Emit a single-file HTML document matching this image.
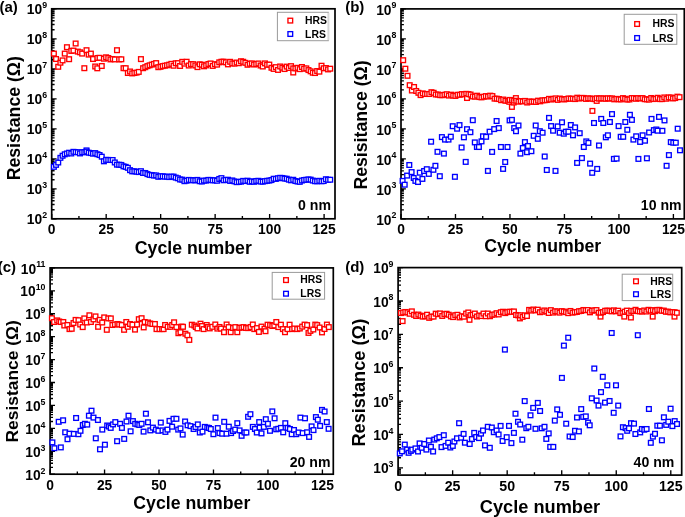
<!DOCTYPE html><html><head><meta charset="utf-8"><style>html,body{margin:0;padding:0;background:#fff;width:685px;height:517px;overflow:hidden}svg{display:block;will-change:transform}text{font-family:"Liberation Sans", sans-serif;font-weight:bold;fill:#000}</style></head><body>
<svg width="685" height="517" viewBox="0 0 685 517">
<path d="M51.70 218.80h4.9M51.70 209.77h2.9M51.70 204.49h2.9M51.70 200.74h2.9M51.70 197.83h2.9M51.70 195.46h2.9M51.70 193.45h2.9M51.70 191.71h2.9M51.70 190.17h2.9M51.70 188.80h4.9M51.70 179.77h2.9M51.70 174.49h2.9M51.70 170.74h2.9M51.70 167.83h2.9M51.70 165.46h2.9M51.70 163.45h2.9M51.70 161.71h2.9M51.70 160.17h2.9M51.70 158.80h4.9M51.70 149.77h2.9M51.70 144.49h2.9M51.70 140.74h2.9M51.70 137.83h2.9M51.70 135.46h2.9M51.70 133.45h2.9M51.70 131.71h2.9M51.70 130.17h2.9M51.70 128.80h4.9M51.70 119.77h2.9M51.70 114.49h2.9M51.70 110.74h2.9M51.70 107.83h2.9M51.70 105.46h2.9M51.70 103.45h2.9M51.70 101.71h2.9M51.70 100.17h2.9M51.70 98.80h4.9M51.70 89.77h2.9M51.70 84.49h2.9M51.70 80.74h2.9M51.70 77.83h2.9M51.70 75.46h2.9M51.70 73.45h2.9M51.70 71.71h2.9M51.70 70.17h2.9M51.70 68.80h4.9M51.70 59.77h2.9M51.70 54.49h2.9M51.70 50.74h2.9M51.70 47.83h2.9M51.70 45.46h2.9M51.70 43.45h2.9M51.70 41.71h2.9M51.70 40.17h2.9M51.70 38.80h4.9M51.70 29.77h2.9M51.70 24.49h2.9M51.70 20.74h2.9M51.70 17.83h2.9M51.70 15.46h2.9M51.70 13.45h2.9M51.70 11.71h2.9M51.70 10.17h2.9M51.70 8.80h4.9M51.70 218.80v-4.8M78.94 218.80v-2.8M106.18 218.80v-4.8M133.42 218.80v-2.8M160.66 218.80v-4.8M187.90 218.80v-2.8M215.14 218.80v-4.8M242.38 218.80v-2.8M269.62 218.80v-4.8M296.86 218.80v-2.8M324.10 218.80v-4.8" stroke="#000" stroke-width="1.35" fill="none"/>
<rect x="51.70" y="8.80" width="283.30" height="210.00" fill="none" stroke="#000" stroke-width="1.7"/>
<text x="47.10" y="224.40" font-size="13.8" text-anchor="end">10<tspan font-size="8.8" dy="-6.2">2</tspan></text>
<text x="47.10" y="194.40" font-size="13.8" text-anchor="end">10<tspan font-size="8.8" dy="-6.2">3</tspan></text>
<text x="47.10" y="164.40" font-size="13.8" text-anchor="end">10<tspan font-size="8.8" dy="-6.2">4</tspan></text>
<text x="47.10" y="134.40" font-size="13.8" text-anchor="end">10<tspan font-size="8.8" dy="-6.2">5</tspan></text>
<text x="47.10" y="104.40" font-size="13.8" text-anchor="end">10<tspan font-size="8.8" dy="-6.2">6</tspan></text>
<text x="47.10" y="74.40" font-size="13.8" text-anchor="end">10<tspan font-size="8.8" dy="-6.2">7</tspan></text>
<text x="47.10" y="44.40" font-size="13.8" text-anchor="end">10<tspan font-size="8.8" dy="-6.2">8</tspan></text>
<text x="47.10" y="14.40" font-size="13.8" text-anchor="end">10<tspan font-size="8.8" dy="-6.2">9</tspan></text>
<text x="51.70" y="234.10" font-size="13.8" text-anchor="middle">0</text>
<text x="106.18" y="234.10" font-size="13.8" text-anchor="middle">25</text>
<text x="160.66" y="234.10" font-size="13.8" text-anchor="middle">50</text>
<text x="215.14" y="234.10" font-size="13.8" text-anchor="middle">75</text>
<text x="269.62" y="234.10" font-size="13.8" text-anchor="middle">100</text>
<text x="324.10" y="234.10" font-size="13.8" text-anchor="middle">125</text>
<text x="193.30" y="254.10" font-size="17.70" text-anchor="middle">Cycle number</text>
<text transform="translate(20.00 118.20) rotate(-90)" font-size="17.70" text-anchor="middle">Resistance (&#937;)</text>
<text x="-0.50" y="11.60" font-size="15">(a)</text>
<text x="331.00" y="210.40" font-size="14.1" text-anchor="end">0 nm</text>
<rect x="277.40" y="12.30" width="50.90" height="28.40" fill="#fff" stroke="#9a9a9a" stroke-width="1"/>
<path d="M328.60 12.80V40.20" stroke="#d8d8d8" stroke-width="1.6" fill="none"/>
<rect x="287.95" y="18.25" width="4.70" height="4.70" fill="#fff" stroke="#f00" stroke-width="1.35"/>
<rect x="287.95" y="31.65" width="4.70" height="4.70" fill="#fff" stroke="#00f" stroke-width="1.35"/>
<text x="305.10" y="23.70" font-size="10.4">HRS</text>
<text x="305.10" y="37.90" font-size="10.4">LRS</text>
<g fill="#fff" stroke="#f00" stroke-width="1.35"><rect x="51.53" y="51.25" width="4.70" height="4.70"/><rect x="53.70" y="56.65" width="4.70" height="4.70"/><rect x="55.88" y="64.45" width="4.70" height="4.70"/><rect x="58.05" y="60.35" width="4.70" height="4.70"/><rect x="60.23" y="58.05" width="4.70" height="4.70"/><rect x="62.41" y="51.25" width="4.70" height="4.70"/><rect x="64.58" y="44.85" width="4.70" height="4.70"/><rect x="66.76" y="56.85" width="4.70" height="4.70"/><rect x="68.93" y="48.55" width="4.70" height="4.70"/><rect x="71.11" y="48.25" width="4.70" height="4.70"/><rect x="73.29" y="41.15" width="4.70" height="4.70"/><rect x="75.46" y="49.25" width="4.70" height="4.70"/><rect x="77.64" y="49.95" width="4.70" height="4.70"/><rect x="79.81" y="51.25" width="4.70" height="4.70"/><rect x="81.99" y="65.85" width="4.70" height="4.70"/><rect x="84.17" y="47.85" width="4.70" height="4.70"/><rect x="86.34" y="52.25" width="4.70" height="4.70"/><rect x="88.52" y="51.25" width="4.70" height="4.70"/><rect x="90.69" y="56.65" width="4.70" height="4.70"/><rect x="92.87" y="64.15" width="4.70" height="4.70"/><rect x="94.95" y="65.95" width="4.70" height="4.70"/><rect x="95.05" y="55.65" width="4.70" height="4.70"/><rect x="97.22" y="55.45" width="4.70" height="4.70"/><rect x="99.40" y="63.65" width="4.70" height="4.70"/><rect x="101.57" y="56.35" width="4.70" height="4.70"/><rect x="103.75" y="54.95" width="4.70" height="4.70"/><rect x="105.93" y="55.65" width="4.70" height="4.70"/><rect x="108.10" y="57.05" width="4.70" height="4.70"/><rect x="110.28" y="56.65" width="4.70" height="4.70"/><rect x="112.45" y="57.05" width="4.70" height="4.70"/><rect x="114.63" y="47.85" width="4.70" height="4.70"/><rect x="116.81" y="57.05" width="4.70" height="4.70"/><rect x="118.98" y="56.95" width="4.70" height="4.70"/><rect x="121.16" y="65.85" width="4.70" height="4.70"/><rect x="123.33" y="65.85" width="4.70" height="4.70"/><rect x="125.51" y="70.65" width="4.70" height="4.70"/><rect x="127.69" y="69.15" width="4.70" height="4.70"/><rect x="129.86" y="71.05" width="4.70" height="4.70"/><rect x="132.04" y="70.65" width="4.70" height="4.70"/><rect x="134.21" y="70.25" width="4.70" height="4.70"/><rect x="136.39" y="69.55" width="4.70" height="4.70"/><rect x="138.57" y="56.75" width="4.70" height="4.70"/><rect x="140.74" y="65.85" width="4.70" height="4.70"/><rect x="142.92" y="64.85" width="4.70" height="4.70"/><rect x="145.09" y="63.75" width="4.70" height="4.70"/><rect x="147.27" y="62.95" width="4.70" height="4.70"/><rect x="149.45" y="62.25" width="4.70" height="4.70"/><rect x="151.62" y="61.55" width="4.70" height="4.70"/><rect x="153.80" y="60.75" width="4.70" height="4.70"/><rect x="155.97" y="64.85" width="4.70" height="4.70"/><rect x="158.15" y="64.45" width="4.70" height="4.70"/><rect x="160.33" y="63.75" width="4.70" height="4.70"/><rect x="162.50" y="63.35" width="4.70" height="4.70"/><rect x="164.68" y="62.95" width="4.70" height="4.70"/><rect x="166.85" y="62.32" width="4.70" height="4.70"/><rect x="169.03" y="61.50" width="4.70" height="4.70"/><rect x="171.21" y="63.38" width="4.70" height="4.70"/><rect x="173.38" y="60.94" width="4.70" height="4.70"/><rect x="175.56" y="60.79" width="4.70" height="4.70"/><rect x="177.73" y="63.61" width="4.70" height="4.70"/><rect x="179.91" y="59.48" width="4.70" height="4.70"/><rect x="182.09" y="61.28" width="4.70" height="4.70"/><rect x="184.26" y="59.40" width="4.70" height="4.70"/><rect x="186.44" y="63.18" width="4.70" height="4.70"/><rect x="188.61" y="61.73" width="4.70" height="4.70"/><rect x="190.79" y="61.81" width="4.70" height="4.70"/><rect x="192.97" y="63.15" width="4.70" height="4.70"/><rect x="195.14" y="64.76" width="4.70" height="4.70"/><rect x="197.32" y="61.95" width="4.70" height="4.70"/><rect x="199.49" y="62.34" width="4.70" height="4.70"/><rect x="201.67" y="63.96" width="4.70" height="4.70"/><rect x="203.85" y="63.04" width="4.70" height="4.70"/><rect x="206.02" y="61.69" width="4.70" height="4.70"/><rect x="208.20" y="61.10" width="4.70" height="4.70"/><rect x="210.37" y="63.56" width="4.70" height="4.70"/><rect x="212.55" y="61.84" width="4.70" height="4.70"/><rect x="214.73" y="62.28" width="4.70" height="4.70"/><rect x="216.90" y="59.99" width="4.70" height="4.70"/><rect x="219.08" y="59.39" width="4.70" height="4.70"/><rect x="221.25" y="59.27" width="4.70" height="4.70"/><rect x="223.43" y="60.01" width="4.70" height="4.70"/><rect x="225.61" y="62.02" width="4.70" height="4.70"/><rect x="227.78" y="59.46" width="4.70" height="4.70"/><rect x="229.96" y="61.05" width="4.70" height="4.70"/><rect x="232.13" y="61.26" width="4.70" height="4.70"/><rect x="234.31" y="60.18" width="4.70" height="4.70"/><rect x="236.49" y="60.86" width="4.70" height="4.70"/><rect x="238.66" y="58.90" width="4.70" height="4.70"/><rect x="240.84" y="59.39" width="4.70" height="4.70"/><rect x="243.01" y="60.47" width="4.70" height="4.70"/><rect x="245.19" y="62.42" width="4.70" height="4.70"/><rect x="247.37" y="61.45" width="4.70" height="4.70"/><rect x="249.54" y="61.04" width="4.70" height="4.70"/><rect x="251.72" y="62.17" width="4.70" height="4.70"/><rect x="253.89" y="61.69" width="4.70" height="4.70"/><rect x="256.07" y="61.12" width="4.70" height="4.70"/><rect x="258.25" y="63.15" width="4.70" height="4.70"/><rect x="260.42" y="62.81" width="4.70" height="4.70"/><rect x="260.42" y="64.15" width="4.70" height="4.70"/><rect x="262.60" y="61.04" width="4.70" height="4.70"/><rect x="264.77" y="62.40" width="4.70" height="4.70"/><rect x="266.95" y="62.25" width="4.70" height="4.70"/><rect x="269.13" y="65.40" width="4.70" height="4.70"/><rect x="271.30" y="66.57" width="4.70" height="4.70"/><rect x="273.48" y="64.80" width="4.70" height="4.70"/><rect x="275.65" y="67.57" width="4.70" height="4.70"/><rect x="277.83" y="64.12" width="4.70" height="4.70"/><rect x="280.01" y="65.32" width="4.70" height="4.70"/><rect x="282.18" y="66.68" width="4.70" height="4.70"/><rect x="284.36" y="64.26" width="4.70" height="4.70"/><rect x="286.53" y="65.61" width="4.70" height="4.70"/><rect x="288.71" y="63.81" width="4.70" height="4.70"/><rect x="290.89" y="66.02" width="4.70" height="4.70"/><rect x="290.89" y="70.15" width="4.70" height="4.70"/><rect x="293.06" y="66.11" width="4.70" height="4.70"/><rect x="295.24" y="65.46" width="4.70" height="4.70"/><rect x="297.41" y="66.79" width="4.70" height="4.70"/><rect x="299.59" y="64.66" width="4.70" height="4.70"/><rect x="301.77" y="66.31" width="4.70" height="4.70"/><rect x="303.94" y="66.03" width="4.70" height="4.70"/><rect x="306.12" y="67.72" width="4.70" height="4.70"/><rect x="308.29" y="68.97" width="4.70" height="4.70"/><rect x="310.47" y="70.38" width="4.70" height="4.70"/><rect x="312.65" y="70.68" width="4.70" height="4.70"/><rect x="314.82" y="68.67" width="4.70" height="4.70"/><rect x="317.00" y="69.31" width="4.70" height="4.70"/><rect x="319.17" y="63.39" width="4.70" height="4.70"/><rect x="321.35" y="65.93" width="4.70" height="4.70"/><rect x="323.53" y="65.69" width="4.70" height="4.70"/><rect x="325.70" y="67.05" width="4.70" height="4.70"/><rect x="327.88" y="66.34" width="4.70" height="4.70"/></g>
<g fill="#fff" stroke="#00f" stroke-width="1.35"><rect x="51.53" y="164.49" width="4.70" height="4.70"/><rect x="53.70" y="162.51" width="4.70" height="4.70"/><rect x="55.88" y="160.15" width="4.70" height="4.70"/><rect x="58.05" y="155.48" width="4.70" height="4.70"/><rect x="60.23" y="153.40" width="4.70" height="4.70"/><rect x="62.41" y="151.95" width="4.70" height="4.70"/><rect x="64.58" y="151.16" width="4.70" height="4.70"/><rect x="66.76" y="150.36" width="4.70" height="4.70"/><rect x="68.93" y="151.13" width="4.70" height="4.70"/><rect x="71.11" y="149.48" width="4.70" height="4.70"/><rect x="73.29" y="149.70" width="4.70" height="4.70"/><rect x="75.46" y="149.95" width="4.70" height="4.70"/><rect x="77.64" y="151.07" width="4.70" height="4.70"/><rect x="79.81" y="149.90" width="4.70" height="4.70"/><rect x="81.99" y="149.81" width="4.70" height="4.70"/><rect x="84.17" y="148.05" width="4.70" height="4.70"/><rect x="84.17" y="149.24" width="4.70" height="4.70"/><rect x="86.34" y="150.34" width="4.70" height="4.70"/><rect x="88.52" y="150.72" width="4.70" height="4.70"/><rect x="90.69" y="151.31" width="4.70" height="4.70"/><rect x="92.87" y="150.75" width="4.70" height="4.70"/><rect x="95.05" y="151.90" width="4.70" height="4.70"/><rect x="97.22" y="152.70" width="4.70" height="4.70"/><rect x="99.40" y="154.34" width="4.70" height="4.70"/><rect x="101.57" y="158.97" width="4.70" height="4.70"/><rect x="103.75" y="157.52" width="4.70" height="4.70"/><rect x="105.93" y="157.57" width="4.70" height="4.70"/><rect x="108.10" y="157.67" width="4.70" height="4.70"/><rect x="110.28" y="157.67" width="4.70" height="4.70"/><rect x="112.45" y="160.12" width="4.70" height="4.70"/><rect x="114.63" y="162.31" width="4.70" height="4.70"/><rect x="116.81" y="162.39" width="4.70" height="4.70"/><rect x="118.98" y="162.59" width="4.70" height="4.70"/><rect x="121.16" y="164.00" width="4.70" height="4.70"/><rect x="123.33" y="164.51" width="4.70" height="4.70"/><rect x="125.51" y="165.47" width="4.70" height="4.70"/><rect x="127.69" y="167.82" width="4.70" height="4.70"/><rect x="129.86" y="168.99" width="4.70" height="4.70"/><rect x="132.04" y="168.93" width="4.70" height="4.70"/><rect x="134.21" y="169.36" width="4.70" height="4.70"/><rect x="136.39" y="169.72" width="4.70" height="4.70"/><rect x="138.57" y="168.85" width="4.70" height="4.70"/><rect x="140.74" y="170.62" width="4.70" height="4.70"/><rect x="142.92" y="170.65" width="4.70" height="4.70"/><rect x="145.09" y="171.76" width="4.70" height="4.70"/><rect x="147.27" y="172.55" width="4.70" height="4.70"/><rect x="149.45" y="172.76" width="4.70" height="4.70"/><rect x="151.62" y="173.19" width="4.70" height="4.70"/><rect x="153.80" y="173.09" width="4.70" height="4.70"/><rect x="155.97" y="174.47" width="4.70" height="4.70"/><rect x="158.15" y="173.86" width="4.70" height="4.70"/><rect x="160.33" y="173.95" width="4.70" height="4.70"/><rect x="162.50" y="174.29" width="4.70" height="4.70"/><rect x="164.68" y="174.29" width="4.70" height="4.70"/><rect x="166.85" y="174.70" width="4.70" height="4.70"/><rect x="169.03" y="174.26" width="4.70" height="4.70"/><rect x="171.21" y="174.25" width="4.70" height="4.70"/><rect x="173.38" y="175.27" width="4.70" height="4.70"/><rect x="175.56" y="175.93" width="4.70" height="4.70"/><rect x="177.73" y="177.15" width="4.70" height="4.70"/><rect x="179.91" y="177.30" width="4.70" height="4.70"/><rect x="182.09" y="178.84" width="4.70" height="4.70"/><rect x="184.26" y="178.38" width="4.70" height="4.70"/><rect x="186.44" y="177.56" width="4.70" height="4.70"/><rect x="188.61" y="177.76" width="4.70" height="4.70"/><rect x="190.79" y="177.94" width="4.70" height="4.70"/><rect x="192.97" y="177.99" width="4.70" height="4.70"/><rect x="195.14" y="177.56" width="4.70" height="4.70"/><rect x="197.32" y="178.88" width="4.70" height="4.70"/><rect x="199.49" y="179.16" width="4.70" height="4.70"/><rect x="201.67" y="178.22" width="4.70" height="4.70"/><rect x="203.85" y="178.27" width="4.70" height="4.70"/><rect x="206.02" y="177.56" width="4.70" height="4.70"/><rect x="208.20" y="177.61" width="4.70" height="4.70"/><rect x="210.37" y="178.05" width="4.70" height="4.70"/><rect x="212.55" y="177.93" width="4.70" height="4.70"/><rect x="214.73" y="178.38" width="4.70" height="4.70"/><rect x="216.90" y="176.61" width="4.70" height="4.70"/><rect x="219.08" y="175.79" width="4.70" height="4.70"/><rect x="221.25" y="177.92" width="4.70" height="4.70"/><rect x="223.43" y="177.62" width="4.70" height="4.70"/><rect x="225.61" y="177.39" width="4.70" height="4.70"/><rect x="227.78" y="178.57" width="4.70" height="4.70"/><rect x="229.96" y="178.10" width="4.70" height="4.70"/><rect x="232.13" y="179.00" width="4.70" height="4.70"/><rect x="234.31" y="179.81" width="4.70" height="4.70"/><rect x="236.49" y="179.60" width="4.70" height="4.70"/><rect x="238.66" y="179.30" width="4.70" height="4.70"/><rect x="240.84" y="178.52" width="4.70" height="4.70"/><rect x="243.01" y="178.71" width="4.70" height="4.70"/><rect x="245.19" y="178.35" width="4.70" height="4.70"/><rect x="247.37" y="179.44" width="4.70" height="4.70"/><rect x="249.54" y="179.01" width="4.70" height="4.70"/><rect x="251.72" y="179.45" width="4.70" height="4.70"/><rect x="253.89" y="178.64" width="4.70" height="4.70"/><rect x="256.07" y="178.45" width="4.70" height="4.70"/><rect x="258.25" y="179.25" width="4.70" height="4.70"/><rect x="260.42" y="179.30" width="4.70" height="4.70"/><rect x="262.60" y="178.80" width="4.70" height="4.70"/><rect x="264.77" y="178.46" width="4.70" height="4.70"/><rect x="266.95" y="178.22" width="4.70" height="4.70"/><rect x="269.13" y="177.71" width="4.70" height="4.70"/><rect x="271.30" y="176.41" width="4.70" height="4.70"/><rect x="273.48" y="176.56" width="4.70" height="4.70"/><rect x="275.65" y="175.89" width="4.70" height="4.70"/><rect x="277.83" y="175.47" width="4.70" height="4.70"/><rect x="280.01" y="175.63" width="4.70" height="4.70"/><rect x="282.18" y="176.25" width="4.70" height="4.70"/><rect x="284.36" y="176.38" width="4.70" height="4.70"/><rect x="286.53" y="177.33" width="4.70" height="4.70"/><rect x="288.71" y="177.97" width="4.70" height="4.70"/><rect x="290.89" y="177.43" width="4.70" height="4.70"/><rect x="293.06" y="178.69" width="4.70" height="4.70"/><rect x="295.24" y="179.15" width="4.70" height="4.70"/><rect x="297.41" y="179.47" width="4.70" height="4.70"/><rect x="299.59" y="178.16" width="4.70" height="4.70"/><rect x="301.77" y="177.65" width="4.70" height="4.70"/><rect x="303.94" y="177.41" width="4.70" height="4.70"/><rect x="306.12" y="177.10" width="4.70" height="4.70"/><rect x="308.29" y="177.28" width="4.70" height="4.70"/><rect x="310.47" y="178.21" width="4.70" height="4.70"/><rect x="312.65" y="178.87" width="4.70" height="4.70"/><rect x="314.82" y="178.93" width="4.70" height="4.70"/><rect x="317.00" y="178.45" width="4.70" height="4.70"/><rect x="319.17" y="178.93" width="4.70" height="4.70"/><rect x="321.35" y="178.69" width="4.70" height="4.70"/><rect x="323.53" y="176.90" width="4.70" height="4.70"/><rect x="325.70" y="177.44" width="4.70" height="4.70"/><rect x="327.88" y="177.39" width="4.70" height="4.70"/></g>
<path d="M401.00 218.90h4.9M401.00 209.87h2.9M401.00 204.59h2.9M401.00 200.84h2.9M401.00 197.93h2.9M401.00 195.56h2.9M401.00 193.55h2.9M401.00 191.81h2.9M401.00 190.27h2.9M401.00 188.90h4.9M401.00 179.87h2.9M401.00 174.59h2.9M401.00 170.84h2.9M401.00 167.93h2.9M401.00 165.56h2.9M401.00 163.55h2.9M401.00 161.81h2.9M401.00 160.27h2.9M401.00 158.90h4.9M401.00 149.87h2.9M401.00 144.59h2.9M401.00 140.84h2.9M401.00 137.93h2.9M401.00 135.56h2.9M401.00 133.55h2.9M401.00 131.81h2.9M401.00 130.27h2.9M401.00 128.90h4.9M401.00 119.87h2.9M401.00 114.59h2.9M401.00 110.84h2.9M401.00 107.93h2.9M401.00 105.56h2.9M401.00 103.55h2.9M401.00 101.81h2.9M401.00 100.27h2.9M401.00 98.90h4.9M401.00 89.87h2.9M401.00 84.59h2.9M401.00 80.84h2.9M401.00 77.93h2.9M401.00 75.56h2.9M401.00 73.55h2.9M401.00 71.81h2.9M401.00 70.27h2.9M401.00 68.90h4.9M401.00 59.87h2.9M401.00 54.59h2.9M401.00 50.84h2.9M401.00 47.93h2.9M401.00 45.56h2.9M401.00 43.55h2.9M401.00 41.81h2.9M401.00 40.27h2.9M401.00 38.90h4.9M401.00 29.87h2.9M401.00 24.59h2.9M401.00 20.84h2.9M401.00 17.93h2.9M401.00 15.56h2.9M401.00 13.55h2.9M401.00 11.81h2.9M401.00 10.27h2.9M401.00 8.90h4.9M401.00 218.90v-4.8M428.24 218.90v-2.8M455.48 218.90v-4.8M482.72 218.90v-2.8M509.96 218.90v-4.8M537.20 218.90v-2.8M564.44 218.90v-4.8M591.68 218.90v-2.8M618.92 218.90v-4.8M646.16 218.90v-2.8M673.40 218.90v-4.8" stroke="#000" stroke-width="1.35" fill="none"/>
<rect x="401.00" y="8.90" width="283.30" height="210.00" fill="none" stroke="#000" stroke-width="1.7"/>
<text x="396.40" y="224.50" font-size="13.8" text-anchor="end">10<tspan font-size="8.8" dy="-6.2">2</tspan></text>
<text x="396.40" y="194.50" font-size="13.8" text-anchor="end">10<tspan font-size="8.8" dy="-6.2">3</tspan></text>
<text x="396.40" y="164.50" font-size="13.8" text-anchor="end">10<tspan font-size="8.8" dy="-6.2">4</tspan></text>
<text x="396.40" y="134.50" font-size="13.8" text-anchor="end">10<tspan font-size="8.8" dy="-6.2">5</tspan></text>
<text x="396.40" y="104.50" font-size="13.8" text-anchor="end">10<tspan font-size="8.8" dy="-6.2">6</tspan></text>
<text x="396.40" y="74.50" font-size="13.8" text-anchor="end">10<tspan font-size="8.8" dy="-6.2">7</tspan></text>
<text x="396.40" y="44.50" font-size="13.8" text-anchor="end">10<tspan font-size="8.8" dy="-6.2">8</tspan></text>
<text x="396.40" y="14.50" font-size="13.8" text-anchor="end">10<tspan font-size="8.8" dy="-6.2">9</tspan></text>
<text x="401.00" y="234.20" font-size="13.8" text-anchor="middle">0</text>
<text x="455.48" y="234.20" font-size="13.8" text-anchor="middle">25</text>
<text x="509.96" y="234.20" font-size="13.8" text-anchor="middle">50</text>
<text x="564.44" y="234.20" font-size="13.8" text-anchor="middle">75</text>
<text x="618.92" y="234.20" font-size="13.8" text-anchor="middle">100</text>
<text x="673.40" y="234.20" font-size="13.8" text-anchor="middle">125</text>
<text x="542.75" y="251.50" font-size="17.70" text-anchor="middle">Cycle number</text>
<text transform="translate(367.20 125.00) rotate(-90)" font-size="17.70" text-anchor="middle">Resisitance (&#937;)</text>
<text x="345.20" y="11.60" font-size="15">(b)</text>
<text x="681.60" y="209.50" font-size="14.1" text-anchor="end">10 nm</text>
<rect x="624.20" y="14.30" width="52.60" height="30.00" fill="#fff" stroke="#9a9a9a" stroke-width="1"/>
<rect x="634.75" y="21.65" width="4.70" height="4.70" fill="#fff" stroke="#f00" stroke-width="1.35"/>
<rect x="634.75" y="35.65" width="4.70" height="4.70" fill="#fff" stroke="#00f" stroke-width="1.35"/>
<text x="652.60" y="27.10" font-size="10.4">HRS</text>
<text x="652.60" y="41.70" font-size="10.4">LRS</text>
<g fill="#fff" stroke="#f00" stroke-width="1.35"><rect x="400.83" y="57.85" width="4.70" height="4.70"/><rect x="403.00" y="66.35" width="4.70" height="4.70"/><rect x="405.18" y="73.45" width="4.70" height="4.70"/><rect x="407.35" y="82.85" width="4.70" height="4.70"/><rect x="409.53" y="88.15" width="4.70" height="4.70"/><rect x="411.71" y="84.65" width="4.70" height="4.70"/><rect x="413.88" y="88.65" width="4.70" height="4.70"/><rect x="416.06" y="90.45" width="4.70" height="4.70"/><rect x="418.23" y="92.75" width="4.70" height="4.70"/><rect x="420.41" y="91.05" width="4.70" height="4.70"/><rect x="422.59" y="91.65" width="4.70" height="4.70"/><rect x="424.76" y="91.65" width="4.70" height="4.70"/><rect x="426.94" y="91.65" width="4.70" height="4.70"/><rect x="429.11" y="89.85" width="4.70" height="4.70"/><rect x="431.29" y="90.45" width="4.70" height="4.70"/><rect x="433.47" y="92.15" width="4.70" height="4.70"/><rect x="435.64" y="92.15" width="4.70" height="4.70"/><rect x="437.82" y="92.81" width="4.70" height="4.70"/><rect x="439.99" y="92.85" width="4.70" height="4.70"/><rect x="442.17" y="92.41" width="4.70" height="4.70"/><rect x="444.35" y="91.91" width="4.70" height="4.70"/><rect x="446.52" y="93.23" width="4.70" height="4.70"/><rect x="448.70" y="92.32" width="4.70" height="4.70"/><rect x="450.87" y="93.25" width="4.70" height="4.70"/><rect x="453.05" y="93.59" width="4.70" height="4.70"/><rect x="455.23" y="92.44" width="4.70" height="4.70"/><rect x="457.40" y="92.45" width="4.70" height="4.70"/><rect x="459.58" y="91.74" width="4.70" height="4.70"/><rect x="461.75" y="91.95" width="4.70" height="4.70"/><rect x="463.93" y="91.49" width="4.70" height="4.70"/><rect x="464.65" y="95.65" width="4.70" height="4.70"/><rect x="466.11" y="91.78" width="4.70" height="4.70"/><rect x="468.28" y="92.21" width="4.70" height="4.70"/><rect x="470.46" y="94.10" width="4.70" height="4.70"/><rect x="472.63" y="94.28" width="4.70" height="4.70"/><rect x="474.81" y="93.34" width="4.70" height="4.70"/><rect x="476.99" y="94.70" width="4.70" height="4.70"/><rect x="479.16" y="95.01" width="4.70" height="4.70"/><rect x="481.34" y="94.36" width="4.70" height="4.70"/><rect x="483.51" y="93.75" width="4.70" height="4.70"/><rect x="485.69" y="94.15" width="4.70" height="4.70"/><rect x="487.87" y="93.31" width="4.70" height="4.70"/><rect x="490.04" y="93.73" width="4.70" height="4.70"/><rect x="492.22" y="96.29" width="4.70" height="4.70"/><rect x="494.39" y="96.30" width="4.70" height="4.70"/><rect x="496.57" y="96.70" width="4.70" height="4.70"/><rect x="498.75" y="97.85" width="4.70" height="4.70"/><rect x="500.92" y="97.18" width="4.70" height="4.70"/><rect x="503.10" y="98.39" width="4.70" height="4.70"/><rect x="505.27" y="98.55" width="4.70" height="4.70"/><rect x="506.95" y="99.45" width="4.70" height="4.70"/><rect x="507.45" y="97.57" width="4.70" height="4.70"/><rect x="509.55" y="104.55" width="4.70" height="4.70"/><rect x="509.63" y="97.90" width="4.70" height="4.70"/><rect x="511.35" y="100.15" width="4.70" height="4.70"/><rect x="511.80" y="98.24" width="4.70" height="4.70"/><rect x="513.55" y="95.75" width="4.70" height="4.70"/><rect x="513.98" y="98.38" width="4.70" height="4.70"/><rect x="516.15" y="99.32" width="4.70" height="4.70"/><rect x="518.33" y="98.72" width="4.70" height="4.70"/><rect x="520.51" y="99.09" width="4.70" height="4.70"/><rect x="522.68" y="98.56" width="4.70" height="4.70"/><rect x="524.86" y="100.17" width="4.70" height="4.70"/><rect x="527.03" y="99.11" width="4.70" height="4.70"/><rect x="529.21" y="99.37" width="4.70" height="4.70"/><rect x="531.39" y="99.29" width="4.70" height="4.70"/><rect x="533.56" y="99.61" width="4.70" height="4.70"/><rect x="535.74" y="98.32" width="4.70" height="4.70"/><rect x="537.91" y="98.99" width="4.70" height="4.70"/><rect x="540.09" y="97.99" width="4.70" height="4.70"/><rect x="542.27" y="97.88" width="4.70" height="4.70"/><rect x="544.44" y="97.70" width="4.70" height="4.70"/><rect x="546.62" y="96.52" width="4.70" height="4.70"/><rect x="548.79" y="97.20" width="4.70" height="4.70"/><rect x="550.97" y="96.52" width="4.70" height="4.70"/><rect x="553.15" y="96.06" width="4.70" height="4.70"/><rect x="555.32" y="97.55" width="4.70" height="4.70"/><rect x="557.50" y="96.19" width="4.70" height="4.70"/><rect x="559.67" y="96.70" width="4.70" height="4.70"/><rect x="561.85" y="97.10" width="4.70" height="4.70"/><rect x="564.03" y="96.66" width="4.70" height="4.70"/><rect x="566.20" y="96.10" width="4.70" height="4.70"/><rect x="568.38" y="96.39" width="4.70" height="4.70"/><rect x="570.55" y="96.36" width="4.70" height="4.70"/><rect x="572.73" y="96.72" width="4.70" height="4.70"/><rect x="574.91" y="95.34" width="4.70" height="4.70"/><rect x="577.08" y="96.22" width="4.70" height="4.70"/><rect x="579.26" y="95.57" width="4.70" height="4.70"/><rect x="581.43" y="95.60" width="4.70" height="4.70"/><rect x="583.61" y="96.57" width="4.70" height="4.70"/><rect x="585.79" y="96.02" width="4.70" height="4.70"/><rect x="587.96" y="96.10" width="4.70" height="4.70"/><rect x="590.05" y="108.55" width="4.70" height="4.70"/><rect x="590.14" y="96.47" width="4.70" height="4.70"/><rect x="592.31" y="96.79" width="4.70" height="4.70"/><rect x="594.35" y="98.55" width="4.70" height="4.70"/><rect x="594.49" y="95.87" width="4.70" height="4.70"/><rect x="596.67" y="96.23" width="4.70" height="4.70"/><rect x="598.84" y="96.03" width="4.70" height="4.70"/><rect x="601.02" y="96.06" width="4.70" height="4.70"/><rect x="603.19" y="96.44" width="4.70" height="4.70"/><rect x="605.37" y="95.97" width="4.70" height="4.70"/><rect x="607.55" y="96.15" width="4.70" height="4.70"/><rect x="609.72" y="96.06" width="4.70" height="4.70"/><rect x="611.90" y="97.00" width="4.70" height="4.70"/><rect x="614.07" y="96.53" width="4.70" height="4.70"/><rect x="616.25" y="96.90" width="4.70" height="4.70"/><rect x="618.43" y="97.08" width="4.70" height="4.70"/><rect x="620.60" y="95.77" width="4.70" height="4.70"/><rect x="622.78" y="96.42" width="4.70" height="4.70"/><rect x="624.95" y="97.24" width="4.70" height="4.70"/><rect x="627.13" y="97.08" width="4.70" height="4.70"/><rect x="629.31" y="95.72" width="4.70" height="4.70"/><rect x="631.48" y="95.74" width="4.70" height="4.70"/><rect x="633.66" y="96.43" width="4.70" height="4.70"/><rect x="635.83" y="95.75" width="4.70" height="4.70"/><rect x="638.01" y="96.13" width="4.70" height="4.70"/><rect x="640.19" y="95.73" width="4.70" height="4.70"/><rect x="642.36" y="96.86" width="4.70" height="4.70"/><rect x="644.54" y="97.03" width="4.70" height="4.70"/><rect x="646.71" y="97.19" width="4.70" height="4.70"/><rect x="648.89" y="95.65" width="4.70" height="4.70"/><rect x="651.07" y="96.71" width="4.70" height="4.70"/><rect x="653.24" y="96.53" width="4.70" height="4.70"/><rect x="655.42" y="95.44" width="4.70" height="4.70"/><rect x="657.59" y="96.75" width="4.70" height="4.70"/><rect x="659.77" y="96.75" width="4.70" height="4.70"/><rect x="661.95" y="95.09" width="4.70" height="4.70"/><rect x="664.12" y="96.39" width="4.70" height="4.70"/><rect x="666.30" y="95.11" width="4.70" height="4.70"/><rect x="668.47" y="95.12" width="4.70" height="4.70"/><rect x="670.65" y="96.08" width="4.70" height="4.70"/><rect x="672.83" y="95.71" width="4.70" height="4.70"/><rect x="675.00" y="94.32" width="4.70" height="4.70"/><rect x="677.18" y="94.81" width="4.70" height="4.70"/></g>
<g fill="#fff" stroke="#00f" stroke-width="1.35"><rect x="400.25" y="178.55" width="4.70" height="4.70"/><rect x="402.35" y="182.35" width="4.70" height="4.70"/><rect x="404.75" y="173.25" width="4.70" height="4.70"/><rect x="406.95" y="162.65" width="4.70" height="4.70"/><rect x="409.25" y="169.75" width="4.70" height="4.70"/><rect x="411.35" y="175.65" width="4.70" height="4.70"/><rect x="413.05" y="178.55" width="4.70" height="4.70"/><rect x="415.65" y="179.65" width="4.70" height="4.70"/><rect x="417.45" y="170.35" width="4.70" height="4.70"/><rect x="420.05" y="176.55" width="4.70" height="4.70"/><rect x="421.75" y="168.65" width="4.70" height="4.70"/><rect x="424.45" y="166.85" width="4.70" height="4.70"/><rect x="426.45" y="171.55" width="4.70" height="4.70"/><rect x="428.75" y="139.35" width="4.70" height="4.70"/><rect x="431.05" y="167.45" width="4.70" height="4.70"/><rect x="433.05" y="163.45" width="4.70" height="4.70"/><rect x="435.15" y="149.45" width="4.70" height="4.70"/><rect x="437.45" y="173.85" width="4.70" height="4.70"/><rect x="439.55" y="134.75" width="4.70" height="4.70"/><rect x="441.55" y="151.25" width="4.70" height="4.70"/><rect x="442.65" y="137.25" width="4.70" height="4.70"/><rect x="446.15" y="137.25" width="4.70" height="4.70"/><rect x="448.45" y="134.35" width="4.70" height="4.70"/><rect x="450.35" y="123.85" width="4.70" height="4.70"/><rect x="452.55" y="174.45" width="4.70" height="4.70"/><rect x="454.75" y="126.35" width="4.70" height="4.70"/><rect x="457.15" y="122.75" width="4.70" height="4.70"/><rect x="459.25" y="145.15" width="4.70" height="4.70"/><rect x="461.55" y="134.95" width="4.70" height="4.70"/><rect x="463.35" y="159.55" width="4.70" height="4.70"/><rect x="464.65" y="126.85" width="4.70" height="4.70"/><rect x="468.05" y="129.85" width="4.70" height="4.70"/><rect x="470.45" y="117.85" width="4.70" height="4.70"/><rect x="472.45" y="140.05" width="4.70" height="4.70"/><rect x="474.55" y="144.65" width="4.70" height="4.70"/><rect x="476.55" y="144.65" width="4.70" height="4.70"/><rect x="479.15" y="139.05" width="4.70" height="4.70"/><rect x="480.65" y="133.95" width="4.70" height="4.70"/><rect x="483.75" y="134.45" width="4.70" height="4.70"/><rect x="485.55" y="168.55" width="4.70" height="4.70"/><rect x="487.25" y="129.35" width="4.70" height="4.70"/><rect x="489.75" y="149.55" width="4.70" height="4.70"/><rect x="491.85" y="126.75" width="4.70" height="4.70"/><rect x="494.25" y="118.65" width="4.70" height="4.70"/><rect x="496.45" y="125.75" width="4.70" height="4.70"/><rect x="498.55" y="144.65" width="4.70" height="4.70"/><rect x="500.75" y="166.55" width="4.70" height="4.70"/><rect x="502.85" y="159.65" width="4.70" height="4.70"/><rect x="505.15" y="144.65" width="4.70" height="4.70"/><rect x="507.25" y="118.05" width="4.70" height="4.70"/><rect x="509.55" y="117.55" width="4.70" height="4.70"/><rect x="511.85" y="125.75" width="4.70" height="4.70"/><rect x="513.65" y="128.85" width="4.70" height="4.70"/><rect x="516.15" y="123.15" width="4.70" height="4.70"/><rect x="518.05" y="151.25" width="4.70" height="4.70"/><rect x="520.45" y="145.65" width="4.70" height="4.70"/><rect x="522.55" y="139.75" width="4.70" height="4.70"/><rect x="524.65" y="149.85" width="4.70" height="4.70"/><rect x="525.65" y="143.65" width="4.70" height="4.70"/><rect x="529.05" y="148.85" width="4.70" height="4.70"/><rect x="531.35" y="133.45" width="4.70" height="4.70"/><rect x="533.35" y="123.15" width="4.70" height="4.70"/><rect x="535.45" y="136.45" width="4.70" height="4.70"/><rect x="537.45" y="128.85" width="4.70" height="4.70"/><rect x="540.25" y="130.35" width="4.70" height="4.70"/><rect x="542.35" y="154.15" width="4.70" height="4.70"/><rect x="544.45" y="167.65" width="4.70" height="4.70"/><rect x="546.65" y="115.55" width="4.70" height="4.70"/><rect x="548.75" y="123.75" width="4.70" height="4.70"/><rect x="550.75" y="128.35" width="4.70" height="4.70"/><rect x="553.15" y="168.55" width="4.70" height="4.70"/><rect x="555.35" y="124.05" width="4.70" height="4.70"/><rect x="557.35" y="130.35" width="4.70" height="4.70"/><rect x="559.65" y="119.95" width="4.70" height="4.70"/><rect x="561.45" y="131.35" width="4.70" height="4.70"/><rect x="563.55" y="129.35" width="4.70" height="4.70"/><rect x="566.05" y="129.35" width="4.70" height="4.70"/><rect x="568.45" y="122.65" width="4.70" height="4.70"/><rect x="570.65" y="132.95" width="4.70" height="4.70"/><rect x="572.75" y="125.05" width="4.70" height="4.70"/><rect x="574.75" y="160.55" width="4.70" height="4.70"/><rect x="577.35" y="130.85" width="4.70" height="4.70"/><rect x="579.55" y="155.75" width="4.70" height="4.70"/><rect x="581.45" y="144.65" width="4.70" height="4.70"/><rect x="583.95" y="139.05" width="4.70" height="4.70"/><rect x="586.05" y="140.55" width="4.70" height="4.70"/><rect x="587.75" y="161.25" width="4.70" height="4.70"/><rect x="589.85" y="170.45" width="4.70" height="4.70"/><rect x="591.65" y="120.65" width="4.70" height="4.70"/><rect x="594.85" y="166.55" width="4.70" height="4.70"/><rect x="596.65" y="143.15" width="4.70" height="4.70"/><rect x="598.85" y="116.55" width="4.70" height="4.70"/><rect x="600.95" y="120.65" width="4.70" height="4.70"/><rect x="603.45" y="134.95" width="4.70" height="4.70"/><rect x="605.55" y="132.95" width="4.70" height="4.70"/><rect x="607.55" y="119.65" width="4.70" height="4.70"/><rect x="609.65" y="111.75" width="4.70" height="4.70"/><rect x="611.55" y="156.55" width="4.70" height="4.70"/><rect x="614.25" y="156.25" width="4.70" height="4.70"/><rect x="616.25" y="123.75" width="4.70" height="4.70"/><rect x="618.35" y="134.45" width="4.70" height="4.70"/><rect x="620.85" y="134.45" width="4.70" height="4.70"/><rect x="622.95" y="119.65" width="4.70" height="4.70"/><rect x="624.95" y="127.45" width="4.70" height="4.70"/><rect x="627.55" y="112.45" width="4.70" height="4.70"/><rect x="629.55" y="117.55" width="4.70" height="4.70"/><rect x="631.05" y="137.25" width="4.70" height="4.70"/><rect x="633.85" y="133.95" width="4.70" height="4.70"/><rect x="636.05" y="156.55" width="4.70" height="4.70"/><rect x="637.75" y="139.55" width="4.70" height="4.70"/><rect x="640.25" y="132.95" width="4.70" height="4.70"/><rect x="642.65" y="138.35" width="4.70" height="4.70"/><rect x="644.55" y="155.95" width="4.70" height="4.70"/><rect x="646.75" y="130.15" width="4.70" height="4.70"/><rect x="649.15" y="116.55" width="4.70" height="4.70"/><rect x="651.55" y="127.75" width="4.70" height="4.70"/><rect x="653.95" y="127.15" width="4.70" height="4.70"/><rect x="655.25" y="128.35" width="4.70" height="4.70"/><rect x="656.65" y="114.55" width="4.70" height="4.70"/><rect x="660.05" y="128.45" width="4.70" height="4.70"/><rect x="662.15" y="118.05" width="4.70" height="4.70"/><rect x="664.25" y="163.45" width="4.70" height="4.70"/><rect x="666.55" y="152.75" width="4.70" height="4.70"/><rect x="668.45" y="139.75" width="4.70" height="4.70"/><rect x="670.95" y="140.35" width="4.70" height="4.70"/><rect x="673.45" y="140.35" width="4.70" height="4.70"/><rect x="675.35" y="126.35" width="4.70" height="4.70"/><rect x="677.65" y="147.95" width="4.70" height="4.70"/></g>
<path d="M50.10 474.20h4.9M50.10 467.30h2.9M50.10 463.26h2.9M50.10 460.40h2.9M50.10 458.18h2.9M50.10 456.36h2.9M50.10 454.83h2.9M50.10 453.50h2.9M50.10 452.33h2.9M50.10 451.28h4.9M50.10 444.38h2.9M50.10 440.34h2.9M50.10 437.48h2.9M50.10 435.26h2.9M50.10 433.44h2.9M50.10 431.91h2.9M50.10 430.58h2.9M50.10 429.40h2.9M50.10 428.36h4.9M50.10 421.46h2.9M50.10 417.42h2.9M50.10 414.56h2.9M50.10 412.33h2.9M50.10 410.52h2.9M50.10 408.98h2.9M50.10 407.65h2.9M50.10 406.48h2.9M50.10 405.43h4.9M50.10 398.53h2.9M50.10 394.50h2.9M50.10 391.63h2.9M50.10 389.41h2.9M50.10 387.60h2.9M50.10 386.06h2.9M50.10 384.73h2.9M50.10 383.56h2.9M50.10 382.51h4.9M50.10 375.61h2.9M50.10 371.57h2.9M50.10 368.71h2.9M50.10 366.49h2.9M50.10 364.67h2.9M50.10 363.14h2.9M50.10 361.81h2.9M50.10 360.64h2.9M50.10 359.59h4.9M50.10 352.69h2.9M50.10 348.65h2.9M50.10 345.79h2.9M50.10 343.57h2.9M50.10 341.75h2.9M50.10 340.22h2.9M50.10 338.89h2.9M50.10 337.72h2.9M50.10 336.67h4.9M50.10 329.77h2.9M50.10 325.73h2.9M50.10 322.87h2.9M50.10 320.64h2.9M50.10 318.83h2.9M50.10 317.30h2.9M50.10 315.97h2.9M50.10 314.79h2.9M50.10 313.74h4.9M50.10 306.84h2.9M50.10 302.81h2.9M50.10 299.94h2.9M50.10 297.72h2.9M50.10 295.91h2.9M50.10 294.37h2.9M50.10 293.04h2.9M50.10 291.87h2.9M50.10 290.82h4.9M50.10 283.92h2.9M50.10 279.89h2.9M50.10 277.02h2.9M50.10 274.80h2.9M50.10 272.99h2.9M50.10 271.45h2.9M50.10 270.12h2.9M50.10 268.95h2.9M50.10 267.90h4.9M50.10 474.20v-4.8M77.33 474.20v-2.8M104.56 474.20v-4.8M131.79 474.20v-2.8M159.02 474.20v-4.8M186.25 474.20v-2.8M213.48 474.20v-4.8M240.72 474.20v-2.8M267.95 474.20v-4.8M295.18 474.20v-2.8M322.41 474.20v-4.8" stroke="#000" stroke-width="1.35" fill="none"/>
<rect x="50.10" y="267.90" width="283.20" height="206.30" fill="none" stroke="#000" stroke-width="1.7"/>
<text x="45.50" y="479.80" font-size="13.8" text-anchor="end">10<tspan font-size="8.8" dy="-6.2">2</tspan></text>
<text x="45.50" y="456.88" font-size="13.8" text-anchor="end">10<tspan font-size="8.8" dy="-6.2">3</tspan></text>
<text x="45.50" y="433.96" font-size="13.8" text-anchor="end">10<tspan font-size="8.8" dy="-6.2">4</tspan></text>
<text x="45.50" y="411.03" font-size="13.8" text-anchor="end">10<tspan font-size="8.8" dy="-6.2">5</tspan></text>
<text x="45.50" y="388.11" font-size="13.8" text-anchor="end">10<tspan font-size="8.8" dy="-6.2">6</tspan></text>
<text x="45.50" y="365.19" font-size="13.8" text-anchor="end">10<tspan font-size="8.8" dy="-6.2">7</tspan></text>
<text x="45.50" y="342.27" font-size="13.8" text-anchor="end">10<tspan font-size="8.8" dy="-6.2">8</tspan></text>
<text x="45.50" y="319.34" font-size="13.8" text-anchor="end">10<tspan font-size="8.8" dy="-6.2">9</tspan></text>
<text x="45.50" y="296.42" font-size="13.8" text-anchor="end">10<tspan font-size="8.8" dy="-6.2">10</tspan></text>
<text x="45.50" y="273.50" font-size="13.8" text-anchor="end">10<tspan font-size="8.8" dy="-6.2">11</tspan></text>
<text x="50.10" y="489.50" font-size="13.8" text-anchor="middle">0</text>
<text x="104.56" y="489.50" font-size="13.8" text-anchor="middle">25</text>
<text x="159.02" y="489.50" font-size="13.8" text-anchor="middle">50</text>
<text x="213.48" y="489.50" font-size="13.8" text-anchor="middle">75</text>
<text x="267.95" y="489.50" font-size="13.8" text-anchor="middle">100</text>
<text x="322.41" y="489.50" font-size="13.8" text-anchor="middle">125</text>
<text x="191.85" y="509.10" font-size="17.70" text-anchor="middle">Cycle number</text>
<text transform="translate(17.90 381.40) rotate(-90)" font-size="17.40" text-anchor="middle">Resistance (&#937;)</text>
<text x="-2.30" y="272.00" font-size="15">(c)</text>
<text x="330.50" y="467.40" font-size="14.1" text-anchor="end">20 nm</text>
<rect x="272.20" y="272.40" width="52.40" height="26.80" fill="#fff" stroke="#9a9a9a" stroke-width="1"/>
<rect x="283.65" y="277.75" width="4.70" height="4.70" fill="#fff" stroke="#f00" stroke-width="1.35"/>
<rect x="283.65" y="291.35" width="4.70" height="4.70" fill="#fff" stroke="#00f" stroke-width="1.35"/>
<text x="300.30" y="283.20" font-size="10.4">HRS</text>
<text x="300.30" y="297.00" font-size="10.4">LRS</text>
<g fill="#fff" stroke="#f00" stroke-width="1.35"><rect x="49.55" y="315.85" width="4.70" height="4.70"/><rect x="51.75" y="319.65" width="4.70" height="4.70"/><rect x="54.85" y="318.05" width="4.70" height="4.70"/><rect x="56.85" y="319.15" width="4.70" height="4.70"/><rect x="58.45" y="319.65" width="4.70" height="4.70"/><rect x="60.95" y="319.65" width="4.70" height="4.70"/><rect x="61.95" y="323.15" width="4.70" height="4.70"/><rect x="65.05" y="322.65" width="4.70" height="4.70"/><rect x="67.15" y="326.75" width="4.70" height="4.70"/><rect x="69.35" y="326.45" width="4.70" height="4.70"/><rect x="71.15" y="320.65" width="4.70" height="4.70"/><rect x="73.25" y="317.55" width="4.70" height="4.70"/><rect x="76.15" y="317.85" width="4.70" height="4.70"/><rect x="77.85" y="322.15" width="4.70" height="4.70"/><rect x="80.35" y="324.75" width="4.70" height="4.70"/><rect x="81.95" y="316.05" width="4.70" height="4.70"/><rect x="84.45" y="320.15" width="4.70" height="4.70"/><rect x="87.05" y="312.95" width="4.70" height="4.70"/><rect x="88.55" y="319.65" width="4.70" height="4.70"/><rect x="91.15" y="317.05" width="4.70" height="4.70"/><rect x="93.15" y="314.05" width="4.70" height="4.70"/><rect x="95.75" y="324.45" width="4.70" height="4.70"/><rect x="97.25" y="317.55" width="4.70" height="4.70"/><rect x="99.85" y="320.15" width="4.70" height="4.70"/><rect x="101.85" y="315.05" width="4.70" height="4.70"/><rect x="104.45" y="327.45" width="4.70" height="4.70"/><rect x="105.95" y="316.05" width="4.70" height="4.70"/><rect x="108.45" y="316.05" width="4.70" height="4.70"/><rect x="110.05" y="322.65" width="4.70" height="4.70"/><rect x="112.55" y="322.15" width="4.70" height="4.70"/><rect x="115.15" y="321.65" width="4.70" height="4.70"/><rect x="116.85" y="322.15" width="4.70" height="4.70"/><rect x="119.35" y="322.65" width="4.70" height="4.70"/><rect x="121.75" y="327.45" width="4.70" height="4.70"/><rect x="123.95" y="319.65" width="4.70" height="4.70"/><rect x="125.45" y="324.45" width="4.70" height="4.70"/><rect x="127.65" y="321.65" width="4.70" height="4.70"/><rect x="130.05" y="322.35" width="4.70" height="4.70"/><rect x="132.65" y="327.25" width="4.70" height="4.70"/><rect x="134.65" y="322.15" width="4.70" height="4.70"/><rect x="136.45" y="316.85" width="4.70" height="4.70"/><rect x="139.25" y="315.85" width="4.70" height="4.70"/><rect x="141.35" y="325.05" width="4.70" height="4.70"/><rect x="142.35" y="319.65" width="4.70" height="4.70"/><rect x="145.65" y="320.15" width="4.70" height="4.70"/><rect x="147.85" y="321.15" width="4.70" height="4.70"/><rect x="150.05" y="321.65" width="4.70" height="4.70"/><rect x="152.55" y="321.65" width="4.70" height="4.70"/><rect x="154.15" y="326.75" width="4.70" height="4.70"/><rect x="157.15" y="326.75" width="4.70" height="4.70"/><rect x="159.75" y="326.75" width="4.70" height="4.70"/><rect x="161.25" y="326.75" width="4.70" height="4.70"/><rect x="162.75" y="322.65" width="4.70" height="4.70"/><rect x="165.35" y="324.45" width="4.70" height="4.70"/><rect x="167.85" y="324.45" width="4.70" height="4.70"/><rect x="169.85" y="322.65" width="4.70" height="4.70"/><rect x="171.75" y="319.95" width="4.70" height="4.70"/><rect x="174.05" y="324.75" width="4.70" height="4.70"/><rect x="176.05" y="330.85" width="4.70" height="4.70"/><rect x="178.15" y="329.85" width="4.70" height="4.70"/><rect x="179.15" y="324.25" width="4.70" height="4.70"/><rect x="180.65" y="324.45" width="4.70" height="4.70"/><rect x="183.05" y="331.35" width="4.70" height="4.70"/><rect x="185.05" y="332.95" width="4.70" height="4.70"/><rect x="186.95" y="337.55" width="4.70" height="4.70"/><rect x="189.45" y="322.35" width="4.70" height="4.70"/><rect x="192.05" y="323.15" width="4.70" height="4.70"/><rect x="193.45" y="324.65" width="4.70" height="4.70"/><rect x="195.15" y="326.05" width="4.70" height="4.70"/><rect x="198.15" y="321.35" width="4.70" height="4.70"/><rect x="199.65" y="323.65" width="4.70" height="4.70"/><rect x="201.25" y="326.75" width="4.70" height="4.70"/><rect x="204.35" y="322.65" width="4.70" height="4.70"/><rect x="205.65" y="324.65" width="4.70" height="4.70"/><rect x="207.35" y="326.05" width="4.70" height="4.70"/><rect x="209.95" y="324.45" width="4.70" height="4.70"/><rect x="212.95" y="322.15" width="4.70" height="4.70"/><rect x="215.05" y="326.25" width="4.70" height="4.70"/><rect x="217.15" y="324.65" width="4.70" height="4.70"/><rect x="218.65" y="326.25" width="4.70" height="4.70"/><rect x="221.65" y="329.85" width="4.70" height="4.70"/><rect x="224.25" y="322.15" width="4.70" height="4.70"/><rect x="226.25" y="324.75" width="4.70" height="4.70"/><rect x="228.35" y="329.85" width="4.70" height="4.70"/><rect x="230.65" y="325.65" width="4.70" height="4.70"/><rect x="232.95" y="324.75" width="4.70" height="4.70"/><rect x="234.95" y="329.85" width="4.70" height="4.70"/><rect x="237.05" y="325.45" width="4.70" height="4.70"/><rect x="239.15" y="325.25" width="4.70" height="4.70"/><rect x="241.25" y="324.75" width="4.70" height="4.70"/><rect x="243.65" y="325.65" width="4.70" height="4.70"/><rect x="245.85" y="325.75" width="4.70" height="4.70"/><rect x="248.15" y="324.65" width="4.70" height="4.70"/><rect x="250.45" y="322.15" width="4.70" height="4.70"/><rect x="251.95" y="326.75" width="4.70" height="4.70"/><rect x="254.55" y="325.75" width="4.70" height="4.70"/><rect x="256.55" y="329.55" width="4.70" height="4.70"/><rect x="259.15" y="324.25" width="4.70" height="4.70"/><rect x="262.15" y="326.45" width="4.70" height="4.70"/><rect x="263.15" y="328.85" width="4.70" height="4.70"/><rect x="265.25" y="322.35" width="4.70" height="4.70"/><rect x="267.75" y="322.65" width="4.70" height="4.70"/><rect x="269.95" y="323.65" width="4.70" height="4.70"/><rect x="271.95" y="323.15" width="4.70" height="4.70"/><rect x="273.95" y="319.65" width="4.70" height="4.70"/><rect x="275.95" y="324.75" width="4.70" height="4.70"/><rect x="278.55" y="322.35" width="4.70" height="4.70"/><rect x="280.55" y="326.75" width="4.70" height="4.70"/><rect x="282.65" y="329.85" width="4.70" height="4.70"/><rect x="285.15" y="326.75" width="4.70" height="4.70"/><rect x="287.25" y="322.35" width="4.70" height="4.70"/><rect x="289.75" y="326.75" width="4.70" height="4.70"/><rect x="291.95" y="326.15" width="4.70" height="4.70"/><rect x="294.85" y="326.75" width="4.70" height="4.70"/><rect x="297.45" y="326.15" width="4.70" height="4.70"/><rect x="299.85" y="324.25" width="4.70" height="4.70"/><rect x="302.25" y="322.25" width="4.70" height="4.70"/><rect x="304.75" y="322.75" width="4.70" height="4.70"/><rect x="306.15" y="330.55" width="4.70" height="4.70"/><rect x="308.05" y="328.55" width="4.70" height="4.70"/><rect x="310.95" y="327.15" width="4.70" height="4.70"/><rect x="312.95" y="322.25" width="4.70" height="4.70"/><rect x="314.85" y="322.75" width="4.70" height="4.70"/><rect x="317.25" y="325.15" width="4.70" height="4.70"/><rect x="319.65" y="330.05" width="4.70" height="4.70"/><rect x="322.15" y="326.65" width="4.70" height="4.70"/><rect x="324.55" y="322.25" width="4.70" height="4.70"/><rect x="326.45" y="324.75" width="4.70" height="4.70"/></g>
<g fill="#fff" stroke="#00f" stroke-width="1.35"><rect x="50.05" y="440.05" width="4.70" height="4.70"/><rect x="52.05" y="445.85" width="4.70" height="4.70"/><rect x="56.35" y="419.45" width="4.70" height="4.70"/><rect x="58.45" y="445.05" width="4.70" height="4.70"/><rect x="60.75" y="417.95" width="4.70" height="4.70"/><rect x="62.85" y="429.95" width="4.70" height="4.70"/><rect x="65.15" y="436.85" width="4.70" height="4.70"/><rect x="67.15" y="431.35" width="4.70" height="4.70"/><rect x="71.45" y="431.55" width="4.70" height="4.70"/><rect x="73.75" y="415.65" width="4.70" height="4.70"/><rect x="76.05" y="431.85" width="4.70" height="4.70"/><rect x="78.15" y="428.45" width="4.70" height="4.70"/><rect x="80.45" y="422.65" width="4.70" height="4.70"/><rect x="82.55" y="421.45" width="4.70" height="4.70"/><rect x="84.85" y="422.25" width="4.70" height="4.70"/><rect x="86.55" y="413.35" width="4.70" height="4.70"/><rect x="89.15" y="408.35" width="4.70" height="4.70"/><rect x="91.15" y="415.25" width="4.70" height="4.70"/><rect x="93.45" y="435.95" width="4.70" height="4.70"/><rect x="95.55" y="417.65" width="4.70" height="4.70"/><rect x="97.65" y="446.95" width="4.70" height="4.70"/><rect x="99.95" y="427.25" width="4.70" height="4.70"/><rect x="102.55" y="442.35" width="4.70" height="4.70"/><rect x="104.85" y="423.15" width="4.70" height="4.70"/><rect x="106.65" y="424.15" width="4.70" height="4.70"/><rect x="108.35" y="425.55" width="4.70" height="4.70"/><rect x="110.65" y="422.05" width="4.70" height="4.70"/><rect x="112.95" y="419.75" width="4.70" height="4.70"/><rect x="114.75" y="438.85" width="4.70" height="4.70"/><rect x="117.75" y="421.45" width="4.70" height="4.70"/><rect x="119.55" y="425.55" width="4.70" height="4.70"/><rect x="121.85" y="436.55" width="4.70" height="4.70"/><rect x="124.15" y="419.15" width="4.70" height="4.70"/><rect x="126.15" y="413.35" width="4.70" height="4.70"/><rect x="128.25" y="428.95" width="4.70" height="4.70"/><rect x="130.55" y="418.75" width="4.70" height="4.70"/><rect x="132.85" y="421.45" width="4.70" height="4.70"/><rect x="135.15" y="422.05" width="4.70" height="4.70"/><rect x="136.95" y="422.65" width="4.70" height="4.70"/><rect x="139.25" y="421.45" width="4.70" height="4.70"/><rect x="141.25" y="429.25" width="4.70" height="4.70"/><rect x="143.55" y="411.35" width="4.70" height="4.70"/><rect x="145.65" y="419.95" width="4.70" height="4.70"/><rect x="147.95" y="428.05" width="4.70" height="4.70"/><rect x="150.55" y="425.25" width="4.70" height="4.70"/><rect x="153.55" y="427.25" width="4.70" height="4.70"/><rect x="156.05" y="428.45" width="4.70" height="4.70"/><rect x="158.45" y="420.25" width="4.70" height="4.70"/><rect x="160.15" y="428.05" width="4.70" height="4.70"/><rect x="163.05" y="429.55" width="4.70" height="4.70"/><rect x="165.15" y="427.25" width="4.70" height="4.70"/><rect x="167.15" y="418.55" width="4.70" height="4.70"/><rect x="169.75" y="424.35" width="4.70" height="4.70"/><rect x="171.15" y="416.45" width="4.70" height="4.70"/><rect x="174.05" y="416.45" width="4.70" height="4.70"/><rect x="175.85" y="427.25" width="4.70" height="4.70"/><rect x="178.15" y="426.05" width="4.70" height="4.70"/><rect x="180.35" y="432.25" width="4.70" height="4.70"/><rect x="182.75" y="419.15" width="4.70" height="4.70"/><rect x="185.25" y="422.95" width="4.70" height="4.70"/><rect x="188.15" y="423.75" width="4.70" height="4.70"/><rect x="191.25" y="426.65" width="4.70" height="4.70"/><rect x="193.15" y="424.65" width="4.70" height="4.70"/><rect x="195.45" y="422.05" width="4.70" height="4.70"/><rect x="197.45" y="430.15" width="4.70" height="4.70"/><rect x="200.15" y="429.25" width="4.70" height="4.70"/><rect x="202.45" y="424.55" width="4.70" height="4.70"/><rect x="204.95" y="425.25" width="4.70" height="4.70"/><rect x="206.65" y="425.65" width="4.70" height="4.70"/><rect x="208.45" y="426.65" width="4.70" height="4.70"/><rect x="211.05" y="431.85" width="4.70" height="4.70"/><rect x="213.15" y="415.25" width="4.70" height="4.70"/><rect x="215.45" y="425.75" width="4.70" height="4.70"/><rect x="217.15" y="430.75" width="4.70" height="4.70"/><rect x="219.85" y="431.35" width="4.70" height="4.70"/><rect x="221.85" y="419.45" width="4.70" height="4.70"/><rect x="224.15" y="431.35" width="4.70" height="4.70"/><rect x="226.45" y="424.35" width="4.70" height="4.70"/><rect x="228.75" y="430.75" width="4.70" height="4.70"/><rect x="230.65" y="428.65" width="4.70" height="4.70"/><rect x="232.85" y="427.25" width="4.70" height="4.70"/><rect x="234.95" y="420.85" width="4.70" height="4.70"/><rect x="237.25" y="428.05" width="4.70" height="4.70"/><rect x="239.25" y="433.45" width="4.70" height="4.70"/><rect x="242.15" y="430.15" width="4.70" height="4.70"/><rect x="244.05" y="430.15" width="4.70" height="4.70"/><rect x="245.75" y="414.45" width="4.70" height="4.70"/><rect x="248.05" y="411.85" width="4.70" height="4.70"/><rect x="250.45" y="424.55" width="4.70" height="4.70"/><rect x="252.55" y="426.65" width="4.70" height="4.70"/><rect x="254.45" y="430.15" width="4.70" height="4.70"/><rect x="256.85" y="419.75" width="4.70" height="4.70"/><rect x="257.35" y="425.25" width="4.70" height="4.70"/><rect x="259.15" y="431.05" width="4.70" height="4.70"/><rect x="261.45" y="424.55" width="4.70" height="4.70"/><rect x="263.45" y="416.85" width="4.70" height="4.70"/><rect x="265.55" y="421.45" width="4.70" height="4.70"/><rect x="267.65" y="428.45" width="4.70" height="4.70"/><rect x="269.95" y="409.05" width="4.70" height="4.70"/><rect x="272.25" y="415.95" width="4.70" height="4.70"/><rect x="273.85" y="426.95" width="4.70" height="4.70"/><rect x="275.95" y="426.45" width="4.70" height="4.70"/><rect x="278.55" y="425.55" width="4.70" height="4.70"/><rect x="280.85" y="429.95" width="4.70" height="4.70"/><rect x="282.95" y="420.85" width="4.70" height="4.70"/><rect x="285.25" y="425.55" width="4.70" height="4.70"/><rect x="287.55" y="426.65" width="4.70" height="4.70"/><rect x="289.35" y="431.85" width="4.70" height="4.70"/><rect x="291.65" y="427.65" width="4.70" height="4.70"/><rect x="293.95" y="431.85" width="4.70" height="4.70"/><rect x="296.25" y="430.15" width="4.70" height="4.70"/><rect x="298.05" y="415.25" width="4.70" height="4.70"/><rect x="300.35" y="430.75" width="4.70" height="4.70"/><rect x="302.65" y="415.95" width="4.70" height="4.70"/><rect x="304.75" y="429.95" width="4.70" height="4.70"/><rect x="306.75" y="434.55" width="4.70" height="4.70"/><rect x="309.25" y="424.05" width="4.70" height="4.70"/><rect x="311.15" y="427.75" width="4.70" height="4.70"/><rect x="313.55" y="414.75" width="4.70" height="4.70"/><rect x="315.45" y="417.35" width="4.70" height="4.70"/><rect x="317.75" y="423.55" width="4.70" height="4.70"/><rect x="319.65" y="407.55" width="4.70" height="4.70"/><rect x="322.25" y="409.15" width="4.70" height="4.70"/><rect x="324.45" y="419.75" width="4.70" height="4.70"/><rect x="326.25" y="426.45" width="4.70" height="4.70"/></g>
<path d="M398.10 467.80h4.9M398.10 457.76h2.9M398.10 451.88h2.9M398.10 447.71h2.9M398.10 444.48h2.9M398.10 441.84h2.9M398.10 439.60h2.9M398.10 437.67h2.9M398.10 435.96h2.9M398.10 434.43h4.9M398.10 424.39h2.9M398.10 418.51h2.9M398.10 414.34h2.9M398.10 411.11h2.9M398.10 408.47h2.9M398.10 406.24h2.9M398.10 404.30h2.9M398.10 402.59h2.9M398.10 401.07h4.9M398.10 391.02h2.9M398.10 385.15h2.9M398.10 380.98h2.9M398.10 377.74h2.9M398.10 375.10h2.9M398.10 372.87h2.9M398.10 370.93h2.9M398.10 369.23h2.9M398.10 367.70h4.9M398.10 357.66h2.9M398.10 351.78h2.9M398.10 347.61h2.9M398.10 344.38h2.9M398.10 341.74h2.9M398.10 339.50h2.9M398.10 337.57h2.9M398.10 335.86h2.9M398.10 334.33h4.9M398.10 324.29h2.9M398.10 318.41h2.9M398.10 314.24h2.9M398.10 311.01h2.9M398.10 308.37h2.9M398.10 306.14h2.9M398.10 304.20h2.9M398.10 302.49h2.9M398.10 300.97h4.9M398.10 290.92h2.9M398.10 285.05h2.9M398.10 280.88h2.9M398.10 277.64h2.9M398.10 275.00h2.9M398.10 272.77h2.9M398.10 270.83h2.9M398.10 269.13h2.9M398.10 267.60h4.9M398.10 472.97h2.9M398.10 471.03h2.9M398.10 469.33h2.9M398.10 475.10v-4.8M425.37 475.10v-2.8M452.64 475.10v-4.8M479.91 475.10v-2.8M507.18 475.10v-4.8M534.45 475.10v-2.8M561.72 475.10v-4.8M588.98 475.10v-2.8M616.25 475.10v-4.8M643.52 475.10v-2.8M670.79 475.10v-4.8" stroke="#000" stroke-width="1.35" fill="none"/>
<rect x="398.10" y="267.60" width="283.60" height="207.50" fill="none" stroke="#000" stroke-width="1.7"/>
<text x="393.50" y="473.40" font-size="13.8" text-anchor="end">10<tspan font-size="8.8" dy="-6.2">3</tspan></text>
<text x="393.50" y="440.03" font-size="13.8" text-anchor="end">10<tspan font-size="8.8" dy="-6.2">4</tspan></text>
<text x="393.50" y="406.67" font-size="13.8" text-anchor="end">10<tspan font-size="8.8" dy="-6.2">5</tspan></text>
<text x="393.50" y="373.30" font-size="13.8" text-anchor="end">10<tspan font-size="8.8" dy="-6.2">6</tspan></text>
<text x="393.50" y="339.93" font-size="13.8" text-anchor="end">10<tspan font-size="8.8" dy="-6.2">7</tspan></text>
<text x="393.50" y="306.57" font-size="13.8" text-anchor="end">10<tspan font-size="8.8" dy="-6.2">8</tspan></text>
<text x="393.50" y="273.20" font-size="13.8" text-anchor="end">10<tspan font-size="8.8" dy="-6.2">9</tspan></text>
<text x="398.10" y="491.20" font-size="14.2" text-anchor="middle">0</text>
<text x="452.64" y="491.20" font-size="14.2" text-anchor="middle">25</text>
<text x="507.18" y="491.20" font-size="14.2" text-anchor="middle">50</text>
<text x="561.72" y="491.20" font-size="14.2" text-anchor="middle">75</text>
<text x="616.25" y="491.20" font-size="14.2" text-anchor="middle">100</text>
<text x="670.79" y="491.20" font-size="14.2" text-anchor="middle">125</text>
<text x="540.00" y="512.60" font-size="18.20" text-anchor="middle">Cycle number</text>
<text transform="translate(365.40 382.70) rotate(-90)" font-size="18.20" text-anchor="middle">Resistance (&#937;)</text>
<text x="345.20" y="272.00" font-size="15">(d)</text>
<text x="674.30" y="466.60" font-size="14.1" text-anchor="end">40 nm</text>
<rect x="622.20" y="274.20" width="50.50" height="26.40" fill="#fff" stroke="#9a9a9a" stroke-width="1"/>
<rect x="633.65" y="278.95" width="4.70" height="4.70" fill="#fff" stroke="#f00" stroke-width="1.35"/>
<rect x="633.65" y="291.85" width="4.70" height="4.70" fill="#fff" stroke="#00f" stroke-width="1.35"/>
<text x="650.30" y="284.60" font-size="10.4">HRS</text>
<text x="650.30" y="298.00" font-size="10.4">LRS</text>
<g fill="#fff" stroke="#f00" stroke-width="1.35"><rect x="398.62" y="310.70" width="4.70" height="4.70"/><rect x="400.25" y="318.75" width="4.70" height="4.70"/><rect x="400.79" y="310.10" width="4.70" height="4.70"/><rect x="402.97" y="309.62" width="4.70" height="4.70"/><rect x="405.14" y="310.03" width="4.70" height="4.70"/><rect x="407.31" y="311.41" width="4.70" height="4.70"/><rect x="409.48" y="309.02" width="4.70" height="4.70"/><rect x="411.65" y="312.43" width="4.70" height="4.70"/><rect x="413.83" y="313.65" width="4.70" height="4.70"/><rect x="416.00" y="312.21" width="4.70" height="4.70"/><rect x="418.17" y="313.28" width="4.70" height="4.70"/><rect x="420.34" y="314.27" width="4.70" height="4.70"/><rect x="422.51" y="313.89" width="4.70" height="4.70"/><rect x="424.69" y="312.37" width="4.70" height="4.70"/><rect x="426.86" y="315.50" width="4.70" height="4.70"/><rect x="429.03" y="314.23" width="4.70" height="4.70"/><rect x="431.20" y="314.25" width="4.70" height="4.70"/><rect x="433.37" y="311.31" width="4.70" height="4.70"/><rect x="435.55" y="311.85" width="4.70" height="4.70"/><rect x="437.72" y="311.08" width="4.70" height="4.70"/><rect x="439.89" y="313.60" width="4.70" height="4.70"/><rect x="442.06" y="311.87" width="4.70" height="4.70"/><rect x="444.23" y="311.39" width="4.70" height="4.70"/><rect x="446.41" y="312.39" width="4.70" height="4.70"/><rect x="448.58" y="314.05" width="4.70" height="4.70"/><rect x="450.75" y="314.73" width="4.70" height="4.70"/><rect x="452.92" y="312.83" width="4.70" height="4.70"/><rect x="455.09" y="312.46" width="4.70" height="4.70"/><rect x="457.27" y="315.08" width="4.70" height="4.70"/><rect x="459.44" y="313.89" width="4.70" height="4.70"/><rect x="461.61" y="314.33" width="4.70" height="4.70"/><rect x="463.78" y="311.25" width="4.70" height="4.70"/><rect x="465.95" y="310.15" width="4.70" height="4.70"/><rect x="467.15" y="317.45" width="4.70" height="4.70"/><rect x="468.13" y="312.79" width="4.70" height="4.70"/><rect x="470.30" y="312.40" width="4.70" height="4.70"/><rect x="472.47" y="311.20" width="4.70" height="4.70"/><rect x="474.64" y="314.14" width="4.70" height="4.70"/><rect x="476.81" y="313.11" width="4.70" height="4.70"/><rect x="478.99" y="313.68" width="4.70" height="4.70"/><rect x="481.16" y="311.23" width="4.70" height="4.70"/><rect x="483.33" y="313.86" width="4.70" height="4.70"/><rect x="485.50" y="311.18" width="4.70" height="4.70"/><rect x="487.67" y="313.88" width="4.70" height="4.70"/><rect x="489.85" y="312.49" width="4.70" height="4.70"/><rect x="492.02" y="312.10" width="4.70" height="4.70"/><rect x="494.19" y="310.83" width="4.70" height="4.70"/><rect x="496.36" y="312.10" width="4.70" height="4.70"/><rect x="498.53" y="309.86" width="4.70" height="4.70"/><rect x="500.71" y="309.39" width="4.70" height="4.70"/><rect x="502.88" y="310.74" width="4.70" height="4.70"/><rect x="505.05" y="309.76" width="4.70" height="4.70"/><rect x="507.22" y="309.32" width="4.70" height="4.70"/><rect x="509.39" y="309.50" width="4.70" height="4.70"/><rect x="511.57" y="309.12" width="4.70" height="4.70"/><rect x="513.74" y="312.64" width="4.70" height="4.70"/><rect x="515.91" y="313.01" width="4.70" height="4.70"/><rect x="517.55" y="316.05" width="4.70" height="4.70"/><rect x="518.08" y="312.99" width="4.70" height="4.70"/><rect x="520.25" y="314.53" width="4.70" height="4.70"/><rect x="522.43" y="312.94" width="4.70" height="4.70"/><rect x="524.60" y="313.65" width="4.70" height="4.70"/><rect x="526.77" y="307.55" width="4.70" height="4.70"/><rect x="528.94" y="308.21" width="4.70" height="4.70"/><rect x="531.11" y="307.18" width="4.70" height="4.70"/><rect x="533.29" y="308.05" width="4.70" height="4.70"/><rect x="535.46" y="307.34" width="4.70" height="4.70"/><rect x="537.63" y="309.86" width="4.70" height="4.70"/><rect x="539.80" y="309.32" width="4.70" height="4.70"/><rect x="541.97" y="308.09" width="4.70" height="4.70"/><rect x="544.15" y="309.06" width="4.70" height="4.70"/><rect x="546.32" y="310.63" width="4.70" height="4.70"/><rect x="548.49" y="307.81" width="4.70" height="4.70"/><rect x="550.66" y="310.23" width="4.70" height="4.70"/><rect x="552.83" y="308.92" width="4.70" height="4.70"/><rect x="555.01" y="309.13" width="4.70" height="4.70"/><rect x="557.18" y="310.29" width="4.70" height="4.70"/><rect x="559.35" y="308.79" width="4.70" height="4.70"/><rect x="561.52" y="309.17" width="4.70" height="4.70"/><rect x="563.69" y="309.79" width="4.70" height="4.70"/><rect x="565.87" y="310.79" width="4.70" height="4.70"/><rect x="568.04" y="308.62" width="4.70" height="4.70"/><rect x="570.21" y="310.28" width="4.70" height="4.70"/><rect x="572.38" y="309.85" width="4.70" height="4.70"/><rect x="574.55" y="309.61" width="4.70" height="4.70"/><rect x="576.73" y="308.83" width="4.70" height="4.70"/><rect x="578.90" y="308.63" width="4.70" height="4.70"/><rect x="581.07" y="307.63" width="4.70" height="4.70"/><rect x="583.24" y="307.89" width="4.70" height="4.70"/><rect x="585.41" y="307.69" width="4.70" height="4.70"/><rect x="587.59" y="309.97" width="4.70" height="4.70"/><rect x="589.76" y="308.32" width="4.70" height="4.70"/><rect x="591.93" y="308.01" width="4.70" height="4.70"/><rect x="594.10" y="307.74" width="4.70" height="4.70"/><rect x="596.27" y="310.31" width="4.70" height="4.70"/><rect x="598.15" y="314.25" width="4.70" height="4.70"/><rect x="598.45" y="310.41" width="4.70" height="4.70"/><rect x="600.62" y="309.73" width="4.70" height="4.70"/><rect x="602.79" y="308.41" width="4.70" height="4.70"/><rect x="604.96" y="308.27" width="4.70" height="4.70"/><rect x="607.13" y="308.45" width="4.70" height="4.70"/><rect x="609.31" y="309.01" width="4.70" height="4.70"/><rect x="611.48" y="307.99" width="4.70" height="4.70"/><rect x="613.65" y="308.97" width="4.70" height="4.70"/><rect x="615.82" y="308.35" width="4.70" height="4.70"/><rect x="617.99" y="310.72" width="4.70" height="4.70"/><rect x="620.17" y="310.76" width="4.70" height="4.70"/><rect x="621.95" y="314.25" width="4.70" height="4.70"/><rect x="622.34" y="309.31" width="4.70" height="4.70"/><rect x="624.51" y="308.28" width="4.70" height="4.70"/><rect x="626.68" y="310.73" width="4.70" height="4.70"/><rect x="628.55" y="315.15" width="4.70" height="4.70"/><rect x="628.85" y="308.50" width="4.70" height="4.70"/><rect x="631.03" y="308.66" width="4.70" height="4.70"/><rect x="633.20" y="307.45" width="4.70" height="4.70"/><rect x="635.37" y="308.75" width="4.70" height="4.70"/><rect x="637.54" y="309.06" width="4.70" height="4.70"/><rect x="639.71" y="309.16" width="4.70" height="4.70"/><rect x="641.89" y="308.13" width="4.70" height="4.70"/><rect x="644.06" y="309.17" width="4.70" height="4.70"/><rect x="646.23" y="307.47" width="4.70" height="4.70"/><rect x="648.40" y="308.35" width="4.70" height="4.70"/><rect x="650.35" y="314.25" width="4.70" height="4.70"/><rect x="650.57" y="307.76" width="4.70" height="4.70"/><rect x="652.75" y="308.81" width="4.70" height="4.70"/><rect x="654.92" y="307.59" width="4.70" height="4.70"/><rect x="657.09" y="307.53" width="4.70" height="4.70"/><rect x="659.26" y="308.48" width="4.70" height="4.70"/><rect x="661.43" y="308.24" width="4.70" height="4.70"/><rect x="663.61" y="309.44" width="4.70" height="4.70"/><rect x="665.78" y="309.25" width="4.70" height="4.70"/><rect x="667.95" y="310.00" width="4.70" height="4.70"/><rect x="670.12" y="309.69" width="4.70" height="4.70"/><rect x="672.15" y="314.25" width="4.70" height="4.70"/><rect x="672.29" y="309.88" width="4.70" height="4.70"/><rect x="674.47" y="310.44" width="4.70" height="4.70"/></g>
<g fill="#fff" stroke="#00f" stroke-width="1.35"><rect x="397.45" y="451.05" width="4.70" height="4.70"/><rect x="399.65" y="448.95" width="4.70" height="4.70"/><rect x="402.45" y="442.25" width="4.70" height="4.70"/><rect x="404.75" y="447.25" width="4.70" height="4.70"/><rect x="406.25" y="450.45" width="4.70" height="4.70"/><rect x="408.45" y="448.55" width="4.70" height="4.70"/><rect x="409.95" y="447.25" width="4.70" height="4.70"/><rect x="413.15" y="446.05" width="4.70" height="4.70"/><rect x="415.65" y="449.15" width="4.70" height="4.70"/><rect x="417.25" y="441.05" width="4.70" height="4.70"/><rect x="419.45" y="445.45" width="4.70" height="4.70"/><rect x="421.95" y="441.65" width="4.70" height="4.70"/><rect x="424.05" y="447.25" width="4.70" height="4.70"/><rect x="426.55" y="438.15" width="4.70" height="4.70"/><rect x="428.55" y="444.45" width="4.70" height="4.70"/><rect x="430.75" y="449.15" width="4.70" height="4.70"/><rect x="431.95" y="437.25" width="4.70" height="4.70"/><rect x="434.45" y="435.95" width="4.70" height="4.70"/><rect x="437.05" y="434.75" width="4.70" height="4.70"/><rect x="439.15" y="444.75" width="4.70" height="4.70"/><rect x="441.45" y="432.85" width="4.70" height="4.70"/><rect x="443.25" y="443.55" width="4.70" height="4.70"/><rect x="445.85" y="440.35" width="4.70" height="4.70"/><rect x="447.95" y="445.15" width="4.70" height="4.70"/><rect x="450.45" y="443.55" width="4.70" height="4.70"/><rect x="452.05" y="439.15" width="4.70" height="4.70"/><rect x="454.65" y="435.95" width="4.70" height="4.70"/><rect x="456.75" y="420.85" width="4.70" height="4.70"/><rect x="458.75" y="435.35" width="4.70" height="4.70"/><rect x="461.25" y="431.55" width="4.70" height="4.70"/><rect x="462.55" y="440.35" width="4.70" height="4.70"/><rect x="467.35" y="441.65" width="4.70" height="4.70"/><rect x="469.55" y="436.65" width="4.70" height="4.70"/><rect x="471.85" y="430.55" width="4.70" height="4.70"/><rect x="473.85" y="434.65" width="4.70" height="4.70"/><rect x="476.65" y="435.75" width="4.70" height="4.70"/><rect x="478.65" y="431.25" width="4.70" height="4.70"/><rect x="480.65" y="428.15" width="4.70" height="4.70"/><rect x="482.65" y="443.05" width="4.70" height="4.70"/><rect x="485.45" y="424.45" width="4.70" height="4.70"/><rect x="487.45" y="445.45" width="4.70" height="4.70"/><rect x="489.45" y="425.15" width="4.70" height="4.70"/><rect x="491.45" y="429.85" width="4.70" height="4.70"/><rect x="494.25" y="428.15" width="4.70" height="4.70"/><rect x="496.25" y="432.15" width="4.70" height="4.70"/><rect x="498.25" y="423.55" width="4.70" height="4.70"/><rect x="500.25" y="438.65" width="4.70" height="4.70"/><rect x="502.55" y="347.25" width="4.70" height="4.70"/><rect x="504.35" y="434.85" width="4.70" height="4.70"/><rect x="506.65" y="423.55" width="4.70" height="4.70"/><rect x="509.05" y="440.75" width="4.70" height="4.70"/><rect x="511.55" y="430.55" width="4.70" height="4.70"/><rect x="513.15" y="411.35" width="4.70" height="4.70"/><rect x="515.65" y="419.45" width="4.70" height="4.70"/><rect x="517.85" y="422.15" width="4.70" height="4.70"/><rect x="519.95" y="437.35" width="4.70" height="4.70"/><rect x="522.35" y="398.75" width="4.70" height="4.70"/><rect x="523.95" y="425.85" width="4.70" height="4.70"/><rect x="526.05" y="424.45" width="4.70" height="4.70"/><rect x="528.15" y="412.95" width="4.70" height="4.70"/><rect x="530.85" y="405.55" width="4.70" height="4.70"/><rect x="533.15" y="426.45" width="4.70" height="4.70"/><rect x="535.45" y="400.55" width="4.70" height="4.70"/><rect x="537.75" y="408.65" width="4.70" height="4.70"/><rect x="539.35" y="425.95" width="4.70" height="4.70"/><rect x="542.15" y="424.45" width="4.70" height="4.70"/><rect x="543.95" y="436.55" width="4.70" height="4.70"/><rect x="546.35" y="431.05" width="4.70" height="4.70"/><rect x="547.85" y="444.55" width="4.70" height="4.70"/><rect x="550.95" y="444.55" width="4.70" height="4.70"/><rect x="552.45" y="418.25" width="4.70" height="4.70"/><rect x="554.85" y="407.05" width="4.70" height="4.70"/><rect x="557.65" y="412.45" width="4.70" height="4.70"/><rect x="559.55" y="375.55" width="4.70" height="4.70"/><rect x="561.55" y="343.25" width="4.70" height="4.70"/><rect x="563.85" y="421.35" width="4.70" height="4.70"/><rect x="565.85" y="335.35" width="4.70" height="4.70"/><rect x="567.25" y="434.15" width="4.70" height="4.70"/><rect x="570.35" y="434.65" width="4.70" height="4.70"/><rect x="572.65" y="428.45" width="4.70" height="4.70"/><rect x="574.65" y="415.15" width="4.70" height="4.70"/><rect x="576.55" y="429.05" width="4.70" height="4.70"/><rect x="578.85" y="406.75" width="4.70" height="4.70"/><rect x="580.85" y="414.55" width="4.70" height="4.70"/><rect x="583.45" y="414.05" width="4.70" height="4.70"/><rect x="585.75" y="420.25" width="4.70" height="4.70"/><rect x="587.35" y="422.95" width="4.70" height="4.70"/><rect x="589.45" y="395.95" width="4.70" height="4.70"/><rect x="591.95" y="366.15" width="4.70" height="4.70"/><rect x="594.25" y="398.15" width="4.70" height="4.70"/><rect x="596.15" y="403.25" width="4.70" height="4.70"/><rect x="598.65" y="389.75" width="4.70" height="4.70"/><rect x="600.45" y="374.45" width="4.70" height="4.70"/><rect x="602.65" y="400.25" width="4.70" height="4.70"/><rect x="604.95" y="382.95" width="4.70" height="4.70"/><rect x="607.25" y="398.65" width="4.70" height="4.70"/><rect x="609.35" y="330.65" width="4.70" height="4.70"/><rect x="611.35" y="410.45" width="4.70" height="4.70"/><rect x="613.65" y="382.95" width="4.70" height="4.70"/><rect x="615.85" y="403.25" width="4.70" height="4.70"/><rect x="618.15" y="434.05" width="4.70" height="4.70"/><rect x="620.55" y="424.85" width="4.70" height="4.70"/><rect x="623.25" y="425.75" width="4.70" height="4.70"/><rect x="624.85" y="428.45" width="4.70" height="4.70"/><rect x="626.65" y="425.95" width="4.70" height="4.70"/><rect x="628.65" y="420.85" width="4.70" height="4.70"/><rect x="631.65" y="421.25" width="4.70" height="4.70"/><rect x="633.05" y="431.65" width="4.70" height="4.70"/><rect x="635.45" y="332.85" width="4.70" height="4.70"/><rect x="637.85" y="430.05" width="4.70" height="4.70"/><rect x="639.55" y="426.65" width="4.70" height="4.70"/><rect x="641.95" y="427.35" width="4.70" height="4.70"/><rect x="644.25" y="426.65" width="4.70" height="4.70"/><rect x="646.55" y="406.65" width="4.70" height="4.70"/><rect x="648.45" y="440.45" width="4.70" height="4.70"/><rect x="650.55" y="434.25" width="4.70" height="4.70"/><rect x="652.65" y="431.45" width="4.70" height="4.70"/><rect x="654.95" y="423.35" width="4.70" height="4.70"/><rect x="657.55" y="423.35" width="4.70" height="4.70"/><rect x="659.55" y="437.95" width="4.70" height="4.70"/><rect x="661.55" y="414.95" width="4.70" height="4.70"/><rect x="663.85" y="422.55" width="4.70" height="4.70"/><rect x="665.95" y="419.35" width="4.70" height="4.70"/><rect x="668.25" y="406.35" width="4.70" height="4.70"/><rect x="670.05" y="423.75" width="4.70" height="4.70"/><rect x="672.35" y="418.75" width="4.70" height="4.70"/><rect x="674.65" y="421.65" width="4.70" height="4.70"/></g>
</svg></body></html>
